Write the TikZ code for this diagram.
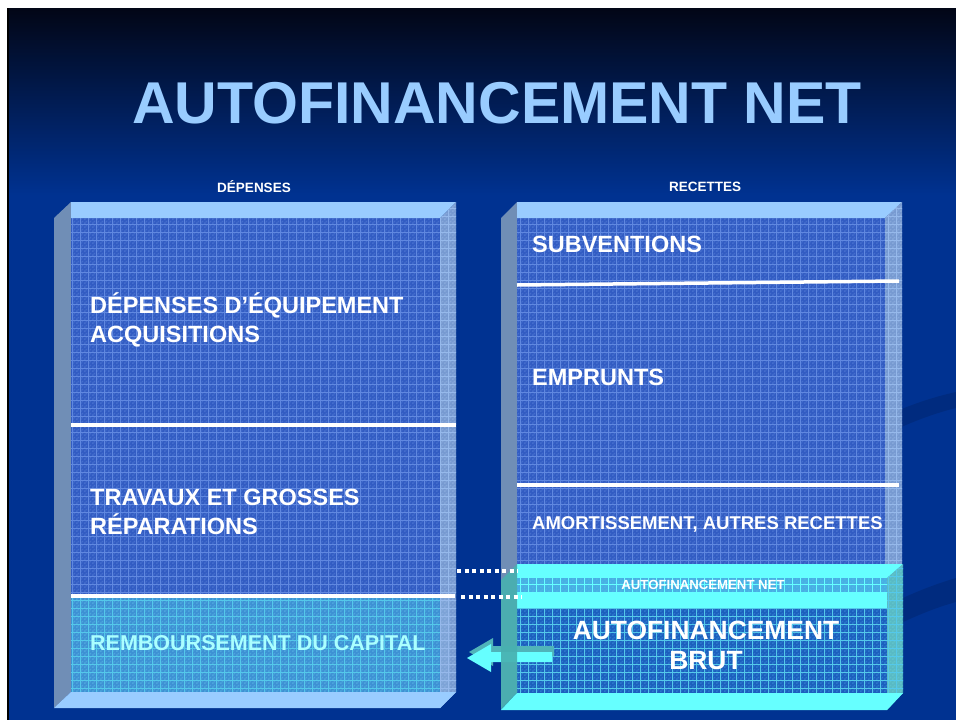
\documentclass[tikz,border=0pt]{standalone}
\usepackage{fontspec}
\setmainfont{Liberation Sans}
\usetikzlibrary{patterns,calc}

\definecolor{slideblue}{RGB}{0,50,145}
\definecolor{slidetop}{RGB}{2,6,22}
\definecolor{titleblue}{RGB}{153,204,255}
\definecolor{panelblue}{RGB}{50,92,195}
\definecolor{paneldot}{RGB}{86,126,216}
\definecolor{panelgrid}{RGB}{96,136,224}
\definecolor{sideface}{RGB}{112,142,182}
\definecolor{topface}{RGB}{153,204,255}
\definecolor{rightface}{RGB}{132,166,216}
\definecolor{rightdot}{RGB}{150,182,228}
\definecolor{rightgrid}{RGB}{150,185,235}
\definecolor{aqua}{RGB}{102,255,255}
\definecolor{tealface}{RGB}{72,176,176}
\definecolor{tealright}{RGB}{84,192,196}
\definecolor{tealdot}{RGB}{100,205,205}
\definecolor{cyanpanel}{RGB}{62,145,212}
\definecolor{cyandot}{RGB}{90,185,230}
\definecolor{cyangrid}{RGB}{84,200,234}
\definecolor{cyanband}{RGB}{70,175,228}
\definecolor{brutpanel}{RGB}{28,95,190}
\definecolor{brutdot}{RGB}{60,145,220}
\definecolor{palecyan}{RGB}{170,255,255}
\definecolor{arrowdark}{RGB}{80,180,185}

% 8pt grid tile for the glass panels
\pgfdeclarepatternformonly{tilegrid}{\pgfqpoint{-1pt}{-1pt}}{\pgfqpoint{9pt}{9pt}}{\pgfqpoint{8pt}{8pt}}{%
  \pgfsetlinewidth{0.8pt}%
  \pgfpathmoveto{\pgfqpoint{0pt}{0pt}}\pgfpathlineto{\pgfqpoint{8pt}{0pt}}%
  \pgfpathmoveto{\pgfqpoint{0pt}{0pt}}\pgfpathlineto{\pgfqpoint{0pt}{8pt}}%
  \pgfusepath{stroke}}
% fine checker texture
\pgfdeclarepatternformonly{dither}{\pgfqpoint{0pt}{0pt}}{\pgfqpoint{4pt}{4pt}}{\pgfqpoint{4pt}{4pt}}{%
  \pgfpathrectangle{\pgfqpoint{0pt}{0pt}}{\pgfqpoint{2pt}{2pt}}%
  \pgfpathrectangle{\pgfqpoint{2pt}{2pt}}{\pgfqpoint{2pt}{2pt}}%
  \pgfusepath{fill}}

\tikzset{
  gridpanel/.style n args={3}{fill=#1,
    postaction={pattern=dither, pattern color=#2, fill opacity=0.5},
    postaction={pattern=tilegrid, pattern color=#3}},
  lbl/.style={text=white, font=\bfseries\fontsize{23.5}{29}\selectfont, inner sep=0pt, align=left},
  head/.style={text=white, font=\bfseries\fontsize{13.5}{16}\selectfont, inner sep=0pt},
  whiteline/.style={white, line width=3.5pt},
  dotline/.style={white, line width=4pt, dash pattern=on 4pt off 3.5pt},
}

\begin{document}
\begin{tikzpicture}[x=1pt,y=-1pt]
\useasboundingbox (0,0) rectangle (956,720);

% slide background
\fill[white] (0,0) rectangle (956,720);
\fill[slideblue] (9,8) rectangle (956,720);
\shade[top color=slidetop, bottom color=slideblue] (9,8) rectangle (956,195);
\fill[black] (7,8) rectangle (9,720);

% faint swooshes on the right
\fill[black, opacity=0.12] (820,470) .. controls (870,440) and (915,418) .. (956,408)
  -- (956,392) .. controls (910,402) and (860,425) .. (815,455) -- cycle;
\fill[black, opacity=0.12] (840,655) .. controls (885,630) and (920,612) .. (956,602)
  -- (956,578) .. controls (915,590) and (875,610) .. (835,635) -- cycle;

% ---------- left box: DÉPENSES ----------
\fill[sideface] (54,218) -- (71,202) -- (71,692) -- (54,708) -- cycle;
\path[gridpanel={panelblue}{paneldot}{panelgrid}] (71,218) rectangle (440,692);
\path[gridpanel={cyanpanel}{cyandot}{cyangrid}] (71,597) rectangle (450,692);
\fill[topface] (71,202) -- (456,202) -- (440,218) -- (71,218) -- cycle;
\path[gridpanel={rightface}{rightdot}{rightgrid}, fill opacity=0.9] (440,218) -- (456,202) -- (456,692) -- (440,708) -- cycle;
\fill[topface] (54,708) -- (440,708) -- (456,692) -- (71,692) -- cycle;
\coordinate (l1a) at (71,425);  \coordinate (l1b) at (456,425);
\coordinate (l2a) at (71,596);  \coordinate (l2b) at (455,596);
\draw[whiteline] (l1a) -- (l1b);
\draw[whiteline] (l2a) -- (l2b);

% ---------- right box: RECETTES ----------
\fill[sideface] (501,218) -- (517,202) -- (517,692) -- (501,708) -- cycle;
\path[gridpanel={panelblue}{paneldot}{panelgrid}] (517,218) rectangle (885,692);
\fill[topface] (517,202) -- (902,202) -- (885,218) -- (517,218) -- cycle;
\path[gridpanel={rightface}{rightdot}{rightgrid}, fill opacity=0.9] (885,218) -- (902,202) -- (902,692) -- (885,708) -- cycle;
\coordinate (r1a) at (517,285);  \coordinate (r1b) at (899,281);
\coordinate (r2a) at (517,485);  \coordinate (r2b) at (899,485);
\draw[whiteline] (r1a) -- (r1b);
\draw[whiteline] (r2a) -- (r2b);

% ---------- autofinancement box ----------
\fill[aqua] (517,564) -- (903,564) -- (887,578) -- (517,578) -- cycle;
\path[gridpanel={cyanband}{cyandot}{aqua}] (517,578) rectangle (887,592);
\fill[aqua] (517,592) rectangle (887,608);
\path[gridpanel={brutpanel}{brutdot}{cyangrid}] (517,608) rectangle (887,693);
\path[gridpanel={tealright}{tealdot}{cyangrid}, fill opacity=0.85] (887,578) -- (903,564) -- (903,693) -- (887,710) -- cycle;

% arrow towards REMBOURSEMENT DU CAPITAL
\fill[arrowdark] (469,652) -- (493,638) -- (493,646) -- (554,646) -- (554,656) -- (493,656) -- (493,666) -- cycle;
\fill[aqua] (467,658) -- (491,644) -- (491,652) -- (552,652) -- (552,662) -- (491,662) -- (491,672) -- cycle;

\fill[tealface, opacity=0.92] (501,580) -- (517,564) -- (517,693) -- (501,710) -- cycle;
\fill[aqua] (501,710) -- (887,710) -- (903,693) -- (517,693) -- cycle;

% dotted links
\coordinate (d1a) at (457,571);  \coordinate (d1b) at (518,571);
\coordinate (d2a) at (461,597);  \coordinate (d2b) at (522,597);
\draw[dotline] (d1a) -- (d1b);
\draw[dotline] (d2a) -- (d2b);

% ---------- texts ----------
\node[text=titleblue, font=\bfseries\fontsize{59}{60}\selectfont, inner sep=0pt] (title) at (497,103) {AUTOFINANCEMENT NET};
\node[head] (hdep) at (254,187) {DÉPENSES};
\node[head] (hrec) at (705,187) {RECETTES};

\node[lbl, anchor=west] (equip) at (90,320) {DÉPENSES D’ÉQUIPEMENT\\ACQUISITIONS};
\node[lbl, anchor=west] (trav) at (90,512) {TRAVAUX ET GROSSES\\RÉPARATIONS};
\node[lbl, anchor=west, text=palecyan, font=\bfseries\fontsize{21.5}{26}\selectfont] (remb) at (90,643) {REMBOURSEMENT DU CAPITAL};

\node[lbl, anchor=west] (subv) at (532,244) {SUBVENTIONS};
\node[lbl, anchor=west] (empr) at (532,377) {EMPRUNTS};
\node[lbl, anchor=west, font=\bfseries\fontsize{18.5}{22}\selectfont] (amort) at (532,524) {AMORTISSEMENT, AUTRES RECETTES};
\node[head, font=\bfseries\fontsize{13.2}{16}\selectfont] (afnet) at (703,585) {AUTOFINANCEMENT NET};
\node[lbl, align=center, font=\bfseries\fontsize{26.4}{30}\selectfont] (afbrut) at (706,645) {AUTOFINANCEMENT\\BRUT};
\end{tikzpicture}
\end{document}
